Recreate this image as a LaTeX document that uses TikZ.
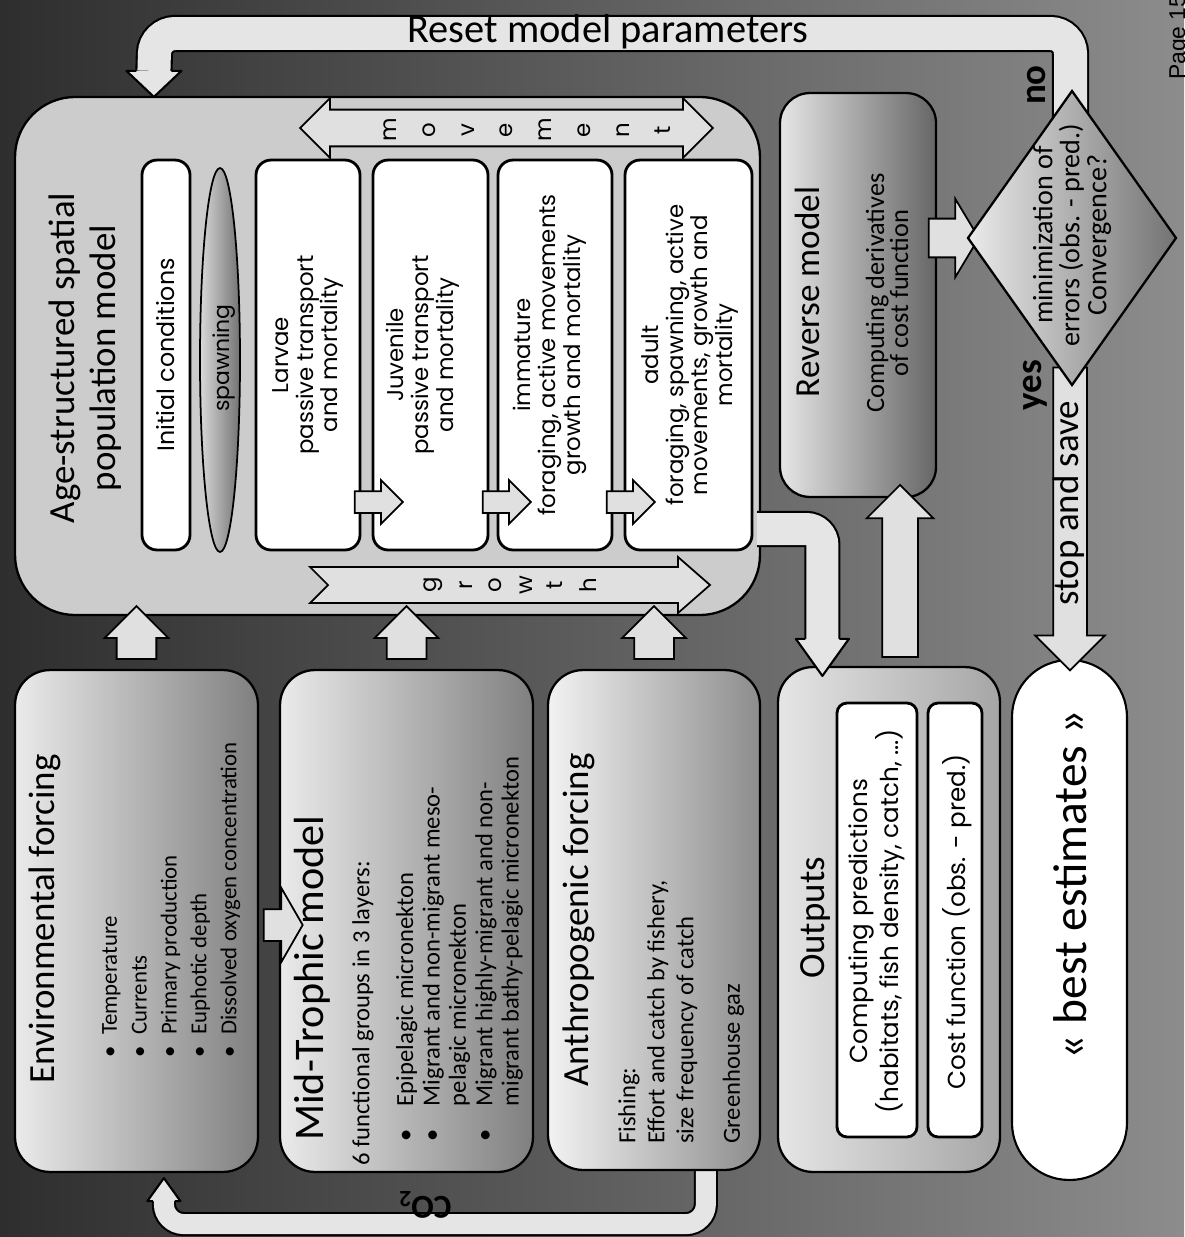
\documentclass[tikz,border=0pt]{standalone}
\usepackage{fontspec}
\setmainfont{Carlito}
\newfontfamily\comicfont{Poppins}
\newfontfamily\pagefont{Liberation Sans}
\usetikzlibrary{shapes.geometric,shapes.arrows,calc,positioning}

% head of a bent band arrow: base centre, angle, half shaft, half head, length
\newcommand{\bhead}[5]{%
  \begin{scope}[shift={#1},rotate=#2]
    \fill[black!10] (0,-#4) -- (#5,0) -- (0,#4) -- cycle;
    \draw[line width=1.2pt,line join=round] (0,-#3) -- (0,-#4) -- (#5,0) -- (0,#4) -- (0,#3);
  \end{scope}}
\newcommand{\bul}{\makebox[13pt][l]{\textbullet}}
\newcommand{\itm}{\hspace*{14pt}\makebox[20pt][l]{\textbullet}}

\begin{document}
\begin{tikzpicture}[x=0.02cm, y=-0.02cm,
  panel/.style={draw, line width=1.3pt, rounded corners=0.7cm, inner sep=0},
  stagebox/.style={draw, line width=1.6pt, fill=white, rounded corners=0.3cm, inner sep=0},
  stagetext/.style={rotate=90, align=center, font=\comicfont\fontsize{13}{14.2}\selectfont},
  blockarrow/.style={single arrow, draw, line width=1pt, fill=black!12, inner sep=0},
  band/.style={line width=1.2pt, double=black!10, rounded corners=0.4cm},
  vtext/.style={rotate=90, font=\fontsize{21}{24}\selectfont}]
  \shade[left color=black!82, right color=black!45] (0,0) rectangle (1184,1237);
  \useasboundingbox (0,0) rectangle (1184,1237);

  % population model
  \node[panel, fill=black!20, rounded corners=1.2cm, minimum width=14.9cm, minimum height=10.36cm] (pop) at (387.5,356) {};
  \node[vtext, align=center, font=\fontsize{21}{23}\selectfont] (poptitle) at (85,358) {Age-structured spatial\\population model};
  \node[stagebox, minimum width=0.96cm, minimum height=7.8cm] (init) at (166,355) {};
  \node[stagetext, font=\comicfont\fontsize{13.5}{15}\selectfont] (inittext) at (init) {Initial conditions};
  \node[ellipse, draw, line width=1pt, left color=black!15, right color=black!55,
        minimum width=0.8cm, minimum height=7.68cm, inner sep=0] (spawn) at (220,360) {};
  \node[stagetext, font=\comicfont\fontsize{12.5}{14}\selectfont] (spawntext) at (224,358) {spawning};
  \node[stagebox, minimum width=2.08cm, minimum height=7.8cm] (larvae) at (308,355) {};
  \node[stagebox, minimum width=2.3cm, minimum height=7.8cm] (juvenile) at (430.5,355) {};
  \node[stagebox, minimum width=2.28cm, minimum height=7.8cm] (immature) at (555,355) {};
  \node[stagebox, minimum width=2.54cm, minimum height=7.8cm] (adult) at (688.5,355) {};
  \node[stagetext] (larvaetext) at (308,355) {Larvae\\passive transport\\and mortality};
  \node[stagetext] (juveniletext) at (423,355) {Juvenile\\passive transport\\and mortality};
  \node[stagetext] (immaturetext) at (550,355) {immature\\foraging, active movements\\growth and mortality};
  \node[stagetext] (adulttext) at (690,355) {adult\\foraging, spawning, active\\movements, growth and\\mortality};
  \foreach \a/\b in {larvae/juvenile, juvenile/immature, immature/adult}
    \node[blockarrow, minimum height=0.96cm, inner ysep=0.2cm, single arrow head extend=0.22cm] (go-\a) at ($(\a.east)+(12,147)$) {};

  \node[double arrow, draw, line width=1pt, fill=black!12, minimum height=8.26cm, inner sep=0,
        inner ysep=0.35cm, double arrow head extend=0.23cm] (movearr) at (506.5,128) {};
  \foreach \l [count=\i from 0] in {m,o,v,e,m,e,n,t}
    \node[rotate=90, font=\comicfont\fontsize{13}{13}\selectfont] (mv\i) at (390+38.9*\i,130) {\l};
  \draw[line width=1pt, fill=black!12] (310,567) -- (678,567) -- (678,557) -- (710,585) -- (678,613)
    -- (678,603) -- (310,603) -- (328,585) -- cycle;
  \foreach \l/\p [count=\i] in {g/433, r/466, o/495, w/526, t/555, h/588}
    \node[rotate=90, font=\comicfont\fontsize{13}{13}\selectfont] (gr\i) at (\p,585) {\l};

  % forcings
  \node[panel, left color=black!8, right color=black!50, minimum width=4.86cm, minimum height=10.04cm] (env) at (136.5,921) {};
  \coordinate (co2head) at ($(env.south west)+(150,28)$);
  \draw[band, double distance=0.4cm] ($(env.south west)+(692,-12)$) -- ++(0,63) -| (co2head);
  \bhead{(co2head)}{90}{11}{16.5}{23}
  \node[rotate=180, font=\bfseries\fontsize{19}{20}\selectfont] (co2) at (425,1205) {CO\textsubscript{2}};
  \node[panel, left color=black!8, right color=black!50, minimum width=5.06cm, minimum height=10.04cm] (mid) at (406.5,921) {};
  \node[panel, left color=black!5, right color=black!45, minimum width=4.24cm, minimum height=10cm] (anthro) at (654,920) {};
  \node[vtext] (envtitle) at (45,919) {Environmental forcing};
  \node[rotate=90, anchor=north west, align=left, font=\fontsize{13}{17}\selectfont] (envlist) at (96,1064)
    {\bul Temperature\\\bul Currents\\\bul Primary production\\\bul Euphotic depth\\\bul Dissolved oxygen concentration};
  \node[vtext, anchor=west, font=\fontsize{24}{28}\selectfont] (midtitle) at (312,1147) {Mid-Trophic model};
  \node[rotate=90, anchor=north west, align=left, font=\fontsize{14}{15}\selectfont] (midlist) at (346,1172)
    {6 functional groups in 3 layers:\\[10pt]
     \itm Epipelagic micronekton\\
     \itm Migrant and non-migrant meso-\\
     \hspace*{34pt}pelagic micronekton\\
     \itm Migrant highly-migrant and non-\\
     \hspace*{34pt}migrant bathy-pelagic micronekton};
  \node[vtext] (anthrotitle) at (579,920) {Anthropogenic forcing};
  \node[rotate=90, anchor=north west, align=left, font=\fontsize{14}{16.5}\selectfont] (anthrolist) at (612,1150)
    {Fishing:\\Effort and catch by fishery,\\size frequency of catch\\[10pt]Greenhouse gaz};
  \node[blockarrow, single arrow tip angle=120, minimum height=0.78cm, inner ysep=0.3cm,
        single arrow head extend=0.43cm] (envmid) at ($(env.east)+(19.5,4)$) {};
  \foreach \b in {env,mid,anthro}
    \node[blockarrow, rotate=90, minimum height=1.06cm, inner ysep=0.38cm, single arrow head extend=0.24cm]
      (up-\b) at ($(\b.north)!0.5!(\b.north |- pop.south)$) {};

  % outputs and estimates
  \node[panel, left color=black!10, right color=black!35, minimum width=4.44cm, minimum height=10.1cm] (out) at (889,919.5) {};
  \node[vtext] (outtitle) at (815,918) {Outputs};
  \node[stagebox, rounded corners=0.2cm, minimum width=1.6cm, minimum height=8.68cm] (comp) at (877,920) {};
  \node[stagetext, font=\comicfont\fontsize{14}{17.6}\selectfont] (comptext) at (877,921)
    {Computing predictions\\(habitats, fish density, catch, ...)};
  \node[stagebox, rounded corners=0.2cm, minimum width=1.08cm, minimum height=8.68cm] (cost) at (955,920) {};
  \node[stagetext, font=\comicfont\fontsize{14}{16}\selectfont] (costtext) at (957,922) {Cost function (obs. - pred.)};
  \node[draw, line width=1.2pt, fill=white, rounded corners=1.14cm, minimum width=2.3cm,
        minimum height=10.4cm, inner sep=0] (best) at (1069.5,920) {};
  \node[vtext, font=\fontsize{27}{30}\selectfont] (besttext) at (1070,885) {« best estimates »};
  \coordinate (outhead) at ($(out.north west)+(45.5,-27)$);
  \draw[band, double distance=0.64cm, rounded corners=0.32cm] ($(pop.east)+(-4,173)$) -| (outhead);
  \bhead{(outhead)}{-90}{17}{26.5}{37}

  % reverse model and test
  \node[panel, rounded corners=0.6cm, left color=black!10, right color=black!60, minimum width=3.12cm,
        minimum height=8.08cm] (rev) at (858,295) {};
  \node[vtext, font=\fontsize{20}{24}\selectfont] (revtitle) at (807,292) {Reverse model};
  \node[rotate=90, align=center, font=\fontsize{15}{13.7}\selectfont] (revtext) at (887,293)
    {Computing derivatives\\of cost function};
  \node[blockarrow, rotate=90, minimum height=3.44cm, inner ysep=0.34cm, single arrow head extend=0.31cm]
    (outrev) at ($(out.north)+(11,-86)$) {};
  \coordinate (decpos) at (1072,238);
  \draw[band, double distance=0.66cm] ($(decpos)+(-1.5,-120)$) |- (155,33.5) -- ($(pop.north west)+(140,-25)$) coordinate (resethead);
  \bhead{(resethead)}{-90}{17.5}{27.5}{26}
  \node[font=\fontsize{23}{24}\selectfont] (resettext) at (608,32) {Reset model parameters};
  \node[blockarrow, rotate=-90, minimum height=6.06cm, inner ysep=0.32cm, single arrow head extend=0.36cm]
    (stoparr) at ($(best.north)+(0.5,-148.5)$) {};
  \node[blockarrow, single arrow tip angle=118, minimum height=1cm, inner ysep=0.37cm,
        single arrow head extend=0.4cm] (revdec) at ($(decpos)+(-124,0)$) {};
  \node[diamond, draw, line width=1.3pt, left color=black!8, right color=black!55, minimum width=4.18cm,
        minimum height=5.9cm, inner sep=0] (dec) at (decpos) {};
  \node[rotate=90, align=center, font=\fontsize{16}{15.4}\selectfont] (dectext) at (1072,235)
    {minimization of\\errors (obs. - pred.)\\Convergence?};
  \node[vtext] (stoptext) at (1069,503) {stop and save};
  \node[vtext, font=\bfseries\fontsize{21}{24}\selectfont] (yes) at (1035,385) {yes};
  \node[vtext, font=\bfseries\fontsize{21}{24}\selectfont] (no) at (1037,85) {no};
  \node[rotate=90, anchor=base west, font=\pagefont\fontsize{13}{14}\selectfont] (page) at (1185,86) {Page 15};
\end{tikzpicture}
\end{document}
